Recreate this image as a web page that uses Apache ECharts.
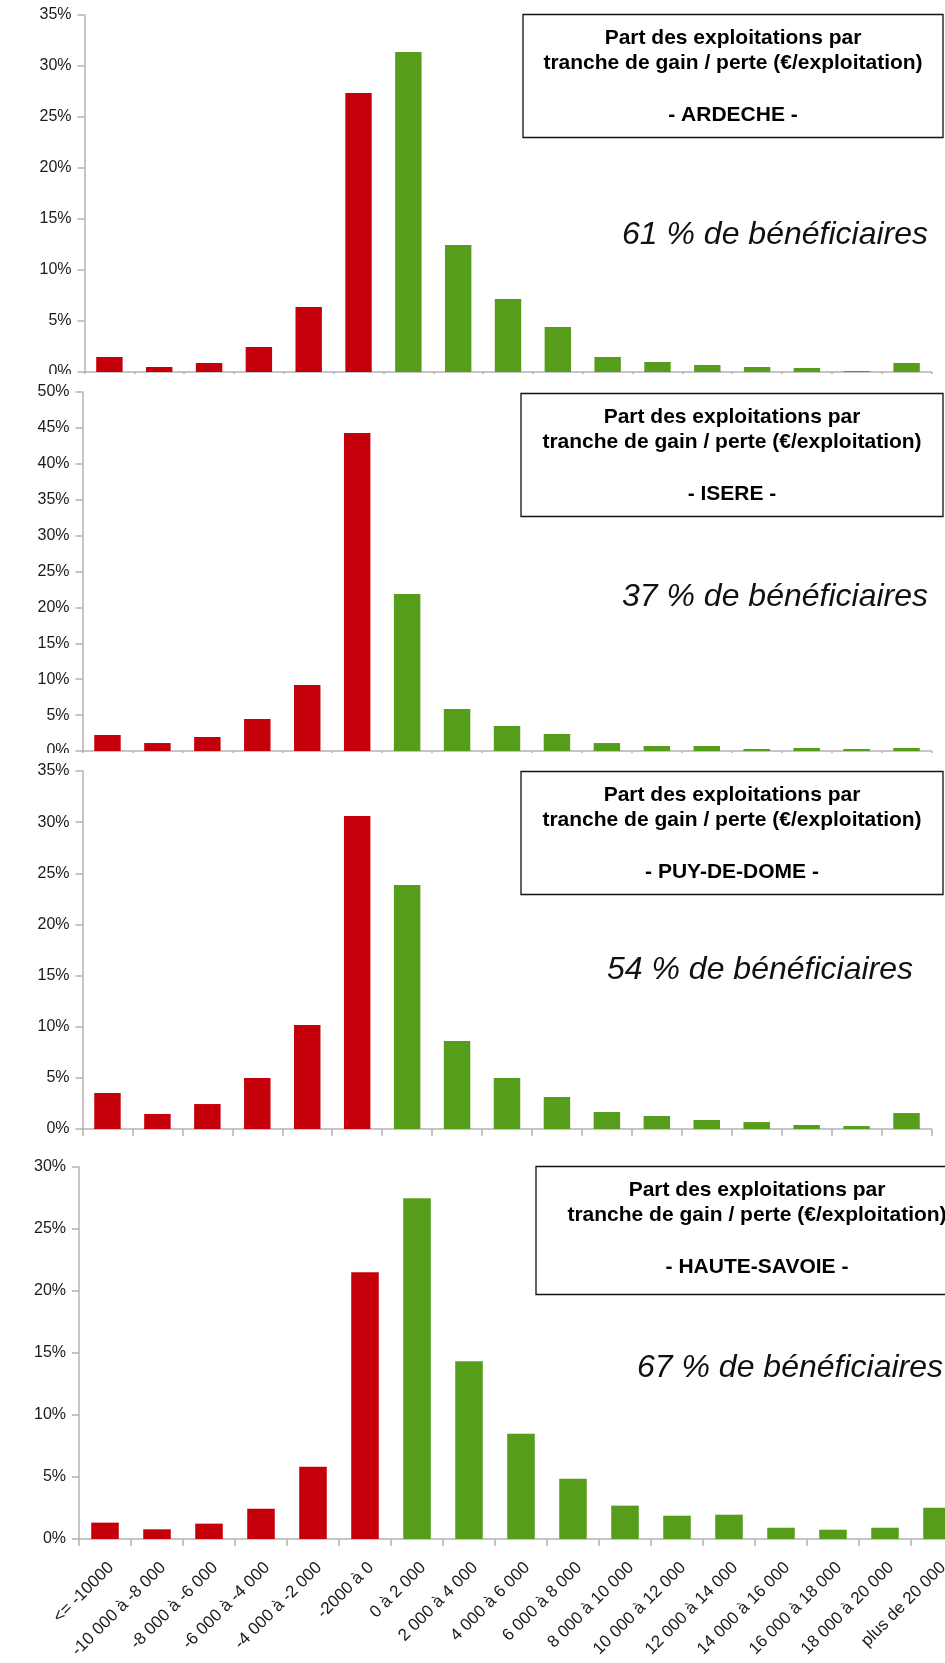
<!DOCTYPE html>
<html>
<head>
<meta charset="utf-8">
<script src="https://cdn.jsdelivr.net/npm/echarts@6/dist/echarts.min.js"></script>
<style>
  html, body { margin: 0; padding: 0; background: #fff; }
  #wrap { position: relative; width: 945px; height: 1663px; overflow: hidden; background: #fff; }
  .c { position: absolute; left: 0; width: 945px; overflow: hidden; }
</style>
</head>
<body>
<div id="wrap">
  <div class="c" id="c0" style="top:0px;height:374px"></div>
  <div class="c" id="c1" style="top:374px;height:379px"></div>
  <div class="c" id="c2" style="top:753px;height:387px"></div>
  <div class="c" id="c3" style="top:1140px;height:523px"></div>
</div>
<script>
// ---- DATA ----
const categories = ['<= -10000', '-10 000 à -8 000', '-8 000 à -6 000', '-6 000 à -4 000', '-4 000 à -2 000', '-2000 à 0',
  '0 à 2 000', '2 000 à 4 000', '4 000 à 6 000', '6 000 à 8 000', '8 000 à 10 000', '10 000 à 12 000',
  '12 000 à 14 000', '14 000 à 16 000', '16 000 à 18 000', '18 000 à 20 000', 'plus de 20 000'];
const ardeche     = [1.47, 0.49, 0.88, 2.45, 6.37, 27.35, 31.37, 12.45, 7.16, 4.41, 1.47, 0.98, 0.69, 0.49, 0.39, 0.10, 0.88];
const isere       = [2.23, 1.11, 1.95, 4.46, 9.19, 44.29, 21.87, 5.85, 3.48, 2.37, 1.11, 0.70, 0.70, 0.28, 0.42, 0.28, 0.42];
const puyDeDome   = [3.52, 1.47, 2.44, 4.99, 10.17, 30.60, 23.85, 8.60, 4.99, 3.13, 1.66, 1.27, 0.88, 0.68, 0.39, 0.29, 1.56];
const hauteSavoie = [1.32, 0.78, 1.24, 2.44, 5.83, 21.51, 27.48, 14.34, 8.49, 4.86, 2.69, 1.88, 1.96, 0.91, 0.75, 0.91, 2.52];
const seriesValues = [ardeche, isere, puyDeDome, hauteSavoie];
const yAxisMax = [35, 50, 35, 30];
const yAxisStep = 5;
const titleLines = ['Part des exploitations par', 'tranche de gain / perte (€/exploitation)'];
const departements = ['- ARDECHE -', '- ISERE -', '- PUY-DE-DOME -', '- HAUTE-SAVOIE -'];
const beneficiaires = ['61 % de bénéficiaires', '37 % de bénéficiaires', '54 % de bénéficiaires', '67 % de bénéficiaires'];

// ---- LAYOUT / STYLE ----
const RED = '#C5000B', GREEN = '#579D1C', AXIS = '#B3B3B3', TXT = '#1a1a1a';
const FONT = '"Liberation Sans", Arial, sans-serif';
const layouts = [
  { grid: { left: 84.5, top: 15, width: 847, height: 357 }, box: { x: 523, y: 14.5, w: 420, h: 123 }, big: { x: 928, y: 235 }, labels: false },
  { grid: { left: 82.5, top: 18, width: 849, height: 359 }, box: { x: 521, y: 19.5, w: 422, h: 123 }, big: { x: 928, y: 223 }, labels: false },
  { grid: { left: 82.5, top: 18, width: 849, height: 358 }, box: { x: 521, y: 18.5, w: 422, h: 123 }, big: { x: 913, y: 217 }, labels: false },
  { grid: { left: 79, top: 27, width: 884, height: 372 }, box: { x: 536, y: 26.5, w: 430, h: 128 }, big: { x: 943, y: 228 }, labels: true }
];
const isLoss = categories.map(c => c.startsWith('-') || c.startsWith('<'));

layouts.forEach((L, i) => {
  const chart = echarts.init(document.getElementById('c' + i), null, { renderer: 'canvas' });
  const b = L.box;
  const cx = b.x + b.w / 2 + (i === 3 ? 6 : 0);
  const tstyle = (text, y) => ({ text, x: cx, y: b.y + y, font: 'bold 21px ' + FONT, fill: '#000',
    align: 'center', verticalAlign: 'middle', textAlign: 'center', textVerticalAlign: 'middle' });
  chart.setOption({
    animation: false,
    backgroundColor: 'transparent',
    grid: Object.assign({ containLabel: false, outerBoundsMode: 'none' }, L.grid),
    xAxis: {
      type: 'category',
      data: categories,
      axisLine: { lineStyle: { color: AXIS, width: 1.5 } },
      axisTick: { show: true, length: 7, lineStyle: { color: AXIS, width: 1.5 } },
      axisLabel: { show: L.labels, rotate: 45, interval: 0, margin: 20, color: TXT, fontSize: 17, fontFamily: FONT,
        align: 'right', verticalAlign: 'top', hideOverlap: false }
    },
    yAxis: {
      type: 'value',
      min: 0, max: yAxisMax[i], interval: yAxisStep,
      axisLine: { show: true, lineStyle: { color: AXIS, width: 1.5 } },
      axisTick: { show: true, length: 7, lineStyle: { color: AXIS, width: 1.5 } },
      splitLine: { show: false },
      axisLabel: { formatter: '{value}%', margin: 13, color: TXT, fontSize: 16, fontFamily: FONT }
    },
    series: [{
      type: 'bar',
      barWidth: '53%',
      data: seriesValues[i].map((v, k) => ({ value: v, itemStyle: { color: isLoss[k] ? RED : GREEN } }))
    }],
    graphic: [
      { type: 'rect', z: 10, shape: { x: b.x, y: b.y, width: b.w, height: b.h },
        style: { fill: '#fff', stroke: '#111', lineWidth: 1.3 } },
      { type: 'text', z: 11, style: tstyle(titleLines[0], 24) },
      { type: 'text', z: 11, style: tstyle(titleLines[1], 49) },
      { type: 'text', z: 11, style: tstyle(departements[i], 101) },
      { type: 'text', z: 11, style: { text: beneficiaires[i], x: L.big.x, y: L.big.y, font: 'italic 32px ' + FONT, fill: '#111',
        align: 'right', verticalAlign: 'middle', textAlign: 'right', textVerticalAlign: 'middle' } }
    ]
  });
});
</script>
</body>
</html>
